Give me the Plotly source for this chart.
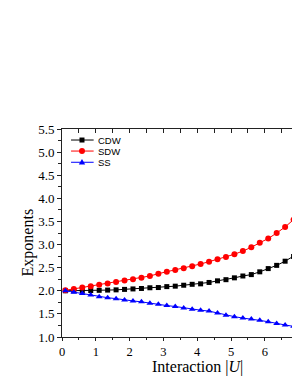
import plotly.graph_objects as go

U = [0.1 + 0.25 * k for k in range(29)]
CDW = [2.00, 2.00, 2.00, 2.005, 2.01, 2.015, 2.02, 2.03, 2.04,
       2.05, 2.065, 2.07, 2.09, 2.10, 2.12, 2.14, 2.15, 2.18, 2.215,
       2.24, 2.28, 2.32, 2.35, 2.41, 2.48, 2.55, 2.64, 2.74, 2.86]
SDW = [2.01, 2.04, 2.07, 2.10, 2.13, 2.16, 2.19, 2.22, 2.25,
       2.28, 2.32, 2.37, 2.41, 2.45, 2.49, 2.53, 2.58, 2.63, 2.68,
       2.73, 2.79, 2.86, 2.94, 3.04, 3.13, 3.25, 3.38, 3.54, 3.76]
SS = [2.00, 1.97, 1.94, 1.91, 1.87, 1.85, 1.83, 1.80, 1.78,
      1.76, 1.73, 1.71, 1.68, 1.66, 1.63, 1.60, 1.58, 1.56, 1.52,
      1.47, 1.44, 1.41, 1.39, 1.36, 1.33, 1.29, 1.26, 1.23, 1.19]

series_names = ["CDW", "SDW", "SS"]
x_ticks = [0, 1, 2, 3, 4, 5, 6, 7]
y_ticks = [1.0, 1.5, 2.0, 2.5, 3.0, 3.5, 4.0, 4.5, 5.0, 5.5]
y_ticklabels = ["%.1f" % v for v in y_ticks]

XMAX = 7.04
serif = "Liberation Serif, Times New Roman, serif"
sans = "Liberation Sans, Arial, sans-serif"
AX = "#222"

fig = go.Figure()
styles = [("black", "square", 5), ("red", "circle", 6), ("blue", "triangle-up", 6)]
for name, vals, (col, sym, sz) in zip(series_names, [CDW, SDW, SS], styles):
    fig.add_trace(go.Scatter(
        x=U, y=vals, name=name, mode="lines+markers",
        line=dict(color=col, width=1),
        marker=dict(color=col, symbol=sym, size=sz),
        showlegend=False,
    ))
# empty trace so the top (mirror) axis is drawn
fig.add_trace(go.Scatter(x=[], y=[], xaxis="x2", showlegend=False))

# compact legend (Origin style): line sample + marker + label
shapes = []
annotations = []
leg_y = [0.947, 0.894, 0.840]
for name, (col, sym, sz), yy in zip(series_names, styles, leg_y):
    shapes.append(dict(type="line", xref="paper", yref="paper",
                       x0=0.038, x1=0.133, y0=yy, y1=yy,
                       line=dict(color=col, width=1)))
    common = dict(xref="paper", yref="paper", xsizemode="pixel", ysizemode="pixel",
                  xanchor=0.084, yanchor=yy, fillcolor=col, line=dict(width=0))
    if sym == "square":
        shapes.append(dict(type="rect", x0=-2.5, x1=2.5, y0=-2.5, y1=2.5, **common))
    elif sym == "circle":
        shapes.append(dict(type="circle", x0=-3, x1=3, y0=-3, y1=3, **common))
    else:
        shapes.append(dict(type="path", path="M -3.2,-2.3 L 3.2,-2.3 L 0,3.3 Z", **common))
    annotations.append(dict(text=name, xref="paper", yref="paper", x=0.141, y=yy,
                            xanchor="left", yanchor="middle", showarrow=False,
                            font=dict(family=sans, size=9.5, color="black")))

annotations.append(dict(text="Interaction |<i>U</i>|", xref="x", yref="paper",
                        x=4.0, y=-0.143, xanchor="center", yanchor="middle",
                        showarrow=False,
                        font=dict(family=serif, size=16, color="black")))
annotations.append(dict(text="Exponents", xref="paper", yref="paper",
                        x=-0.145, y=0.457, xanchor="center", yanchor="middle",
                        textangle=-90, showarrow=False,
                        font=dict(family=serif, size=16, color="black")))

fig.update_layout(
    width=300, height=388,
    margin=dict(l=54, r=8, t=121, b=59),
    paper_bgcolor="white", plot_bgcolor="white",
    showlegend=False,
    shapes=shapes, annotations=annotations,
    xaxis=dict(range=[0, XMAX], tickvals=x_ticks,
               ticktext=[str(v) for v in x_ticks],
               automargin=False, showgrid=False, zeroline=False,
               showline=True, linecolor=AX, linewidth=1,
               ticks="outside", ticklen=3, tickcolor=AX,
               minor=dict(dtick=0.5, tick0=0, ticks="outside", ticklen=2, tickcolor=AX),
               tickfont=dict(family=serif, size=12.5, color="black")),
    xaxis2=dict(range=[0, XMAX], overlaying="x", side="top", anchor="y",
                automargin=False, showgrid=False, zeroline=False, showticklabels=False,
                showline=True, linecolor=AX, linewidth=1,
                ticks="inside", ticklen=4, tickcolor=AX,
                tick0=0, dtick=0.5),
    yaxis=dict(range=[1.0, 5.5], tickvals=y_ticks, ticktext=y_ticklabels,
               automargin=False, showgrid=False, zeroline=False,
               showline=True, linecolor=AX, linewidth=1,
               ticks="outside", ticklen=4, tickcolor=AX,
               minor=dict(dtick=0.25, tick0=1.0, ticks="outside", ticklen=3, tickcolor=AX),
               tickfont=dict(family=serif, size=13, color="black")),
)

fig.write_html("out.html")
